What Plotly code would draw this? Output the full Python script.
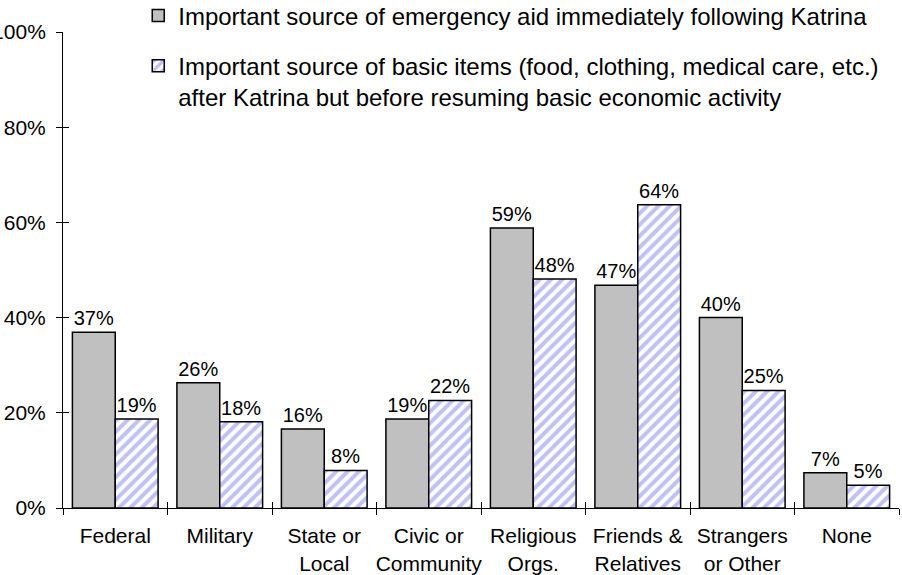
import plotly.graph_objects as go

categories = ["Federal", "Military", "State or<br>Local", "Civic or<br>Community",
              "Religious<br>Orgs.", "Friends &<br>Relatives", "Strangers<br>or Other", "None"]
emergency = [36.9, 26.3, 16.6, 18.7, 58.8, 46.8, 40.0, 7.4]
basic = [18.7, 18.1, 7.9, 22.6, 48.1, 63.7, 24.7, 4.8]
emergency_labels = ["37%", "26%", "16%", "19%", "59%", "47%", "40%", "7%"]
basic_labels = ["19%", "18%", "8%", "22%", "48%", "64%", "25%", "5%"]
series_names = [
    "Important source of emergency aid immediately following Katrina",
    "Important source of basic items (food, clothing, medical care, etc.)<br>after Katrina but before resuming basic economic activity",
]
y_ticks = [0, 20, 40, 60, 80, 100]
y_ticktext = ["0%", "20%", "40%", "60%", "80%", "100%"]

FONT = "Liberation Sans, Arial, Helvetica, sans-serif"
n_cat = len(categories)
boundaries = [i - 0.5 for i in range(n_cat + 1)]

fig = go.Figure()
fig.add_trace(go.Bar(
    x=categories, y=emergency, name=series_names[0], legendgroup="a",
    text=emergency_labels, textposition="outside", cliponaxis=False,
    textfont=dict(size=20, color="black", family=FONT),
    marker=dict(color="#c0c0c0", line=dict(color="black", width=1.5)),
))
fig.add_trace(go.Bar(
    x=categories, y=basic, name=series_names[1], legendgroup="b",
    text=basic_labels, textposition="outside", cliponaxis=False,
    textfont=dict(size=20, color="black", family=FONT),
    marker=dict(color="white", line=dict(color="black", width=1.5),
                pattern=dict(shape="/", fgcolor="#8282f0", bgcolor="white",
                             size=8, solidity=0.5)),
))

fig.update_layout(
    width=902, height=575,
    margin=dict(l=63, r=3, t=32, b=67, autoexpand=False),
    paper_bgcolor="white", plot_bgcolor="white",
    font=dict(family=FONT, size=20, color="black"),
    barmode="group", bargap=0.18, bargroupgap=0,
    showlegend=True,
    legend=dict(x=0.09, y=1.081, xanchor="left", yanchor="top",
                font=dict(size=24, family=FONT), valign="top",
                traceorder="grouped", tracegroupgap=16,
                bgcolor="rgba(0,0,0,0)"),
    xaxis=dict(showline=True, linecolor="black", linewidth=1,
               ticks="outside", ticklen=6, tickcolor="black",
               tickson="boundaries", showgrid=False, automargin=False,
               tickangle=0, tickfont=dict(size=21), ticklabelstandoff=9),
    yaxis=dict(range=[0, 100], tickvals=y_ticks, ticktext=y_ticktext,
               showline=True, linecolor="black", linewidth=1,
               ticks="outside", ticklen=6, tickcolor="black",
               showgrid=False, zeroline=False, automargin=False,
               tickfont=dict(size=21), ticklabelstandoff=6),
    # overlay axes that only add the inner half of each crossing tick
    xaxis2=dict(overlaying="x", anchor="y", side="bottom", range=[-0.5, n_cat - 0.5],
                tickvals=boundaries, showticklabels=False, ticks="inside",
                ticklen=6, tickcolor="black", showgrid=False, showline=False,
                zeroline=False, automargin=False),
    yaxis2=dict(overlaying="y", anchor="x", side="left", range=[0, 100],
                tickvals=y_ticks, showticklabels=False, ticks="inside",
                ticklen=6, tickcolor="black", showgrid=False, showline=False,
                zeroline=False, automargin=False),
)
# invisible helper trace so the overlay axes are drawn
fig.add_trace(go.Scatter(x=[boundaries[0]], y=[0], xaxis="x2", yaxis="y2",
                         mode="markers", marker=dict(opacity=0), showlegend=False,
                         hoverinfo="skip"))

fig.write_html("out.html")
